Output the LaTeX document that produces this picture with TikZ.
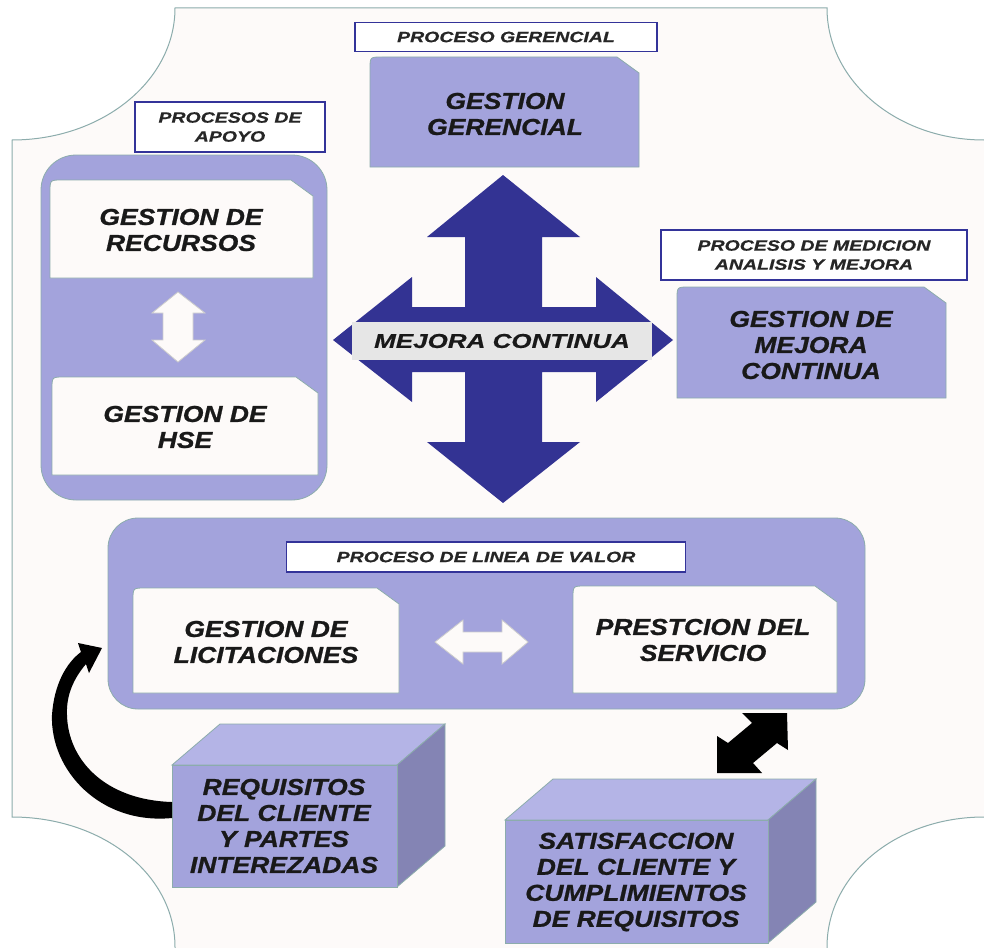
\documentclass[tikz,border=0pt]{standalone}
\usepackage{fontspec}
\setmainfont{Liberation Sans}
\newfontfamily\boxfont[FakeStretch=1.15,FakeBold=1]{Liberation Sans}
\newfontfamily\tagfont[FakeStretch=1.3,FakeBold=0.6]{Liberation Sans}
\definecolor{pagebg}{RGB}{253,250,249}
\definecolor{edge}{RGB}{140,172,172}
\definecolor{lav}{RGB}{163,163,220}
\definecolor{lavtop}{RGB}{180,180,230}
\definecolor{lavside}{RGB}{132,132,180}
\definecolor{navy}{RGB}{51,51,147}
\definecolor{tagline}{RGB}{51,51,153}
\definecolor{band}{RGB}{230,230,230}
\newcommand{\snipbox}[5]{\filldraw[#5] (#1,#4) -- (#1,#2+12) .. controls (#1,#2) .. (#1+12,#2) -- (#3-22,#2) -- (#3,#2+16) -- (#3,#4) -- cycle;}
\newcommand{\boxcube}[4]{
 \filldraw[cubetop] (#1,#2) -- (#1+48,#2-41) -- (#3+48,#2-41) -- (#3,#2) -- cycle;
 \filldraw[cubeside] (#3,#2) -- (#3+48,#2-41) -- (#3+48,#4-41) -- (#3,#4) -- cycle;
 \filldraw[cubefront] (#1,#2) rectangle (#3,#4);}
\begin{document}
\begin{tikzpicture}[x=1pt,y=-1pt,
 edgeline/.style={draw=edge, line width=0.8pt},
 lavbox/.style={edgeline, fill=lav},
 whitebox/.style={edgeline, fill=pagebg},
 cubetop/.style={edgeline, fill=lavtop},
 cubeside/.style={edgeline, fill=lavside},
 cubefront/.style={edgeline, fill=lav},
 btext/.style={font=\boxfont\bfseries\itshape\fontsize{23}{26}\selectfont, align=center, text=black!90},
 tag/.style={draw=tagline, line width=1.3pt, fill=white, inner sep=0pt, align=center, font=\tagfont\bfseries\itshape\fontsize{15}{19}\selectfont, text=black!85},
 hollow/.style={fill=pagebg, draw=black!20, line width=0.8pt}]
\useasboundingbox (0,0) rectangle (984,947);
\fill[white] (0,0) rectangle (984,947);
\filldraw[pagebg, draw=edge, line width=1pt] (175,8) -- (827,8) .. controls (827,81) and (897,140) .. (984,140) -- (995,140) -- (995,817) -- (984,817) .. controls (897,817) and (827,874) .. (827,947) -- (827,955) -- (175,955) -- (175,947) .. controls (175,874) and (102,817) .. (12,817) -- (12,140) .. controls (102,140) and (175,81) .. cycle;

\draw[lavbox, rounded corners=35pt] (41,155) rectangle (327,500);
\draw[lavbox, rounded corners=30pt] (108,518) rectangle (865,709);

\snipbox{370}{57}{639}{167}{lavbox}
\snipbox{50}{180}{313}{278}{whitebox}
\snipbox{52}{377}{318}{475}{whitebox}
\snipbox{677}{287}{946}{398}{lavbox}
\snipbox{133}{588}{399}{693}{whitebox}
\snipbox{573}{586}{837}{693}{whitebox}

\node[btext] (gg) at (505,114) {GESTION\\GERENCIAL};
\node[btext] (rec) at (181,230) {GESTION DE\\RECURSOS};
\node[btext] (hse) at (185,427) {GESTION DE\\HSE};
\node[btext] (gmc) at (811,345) {GESTION DE\\MEJORA\\CONTINUA};
\node[btext] (lic) at (266,642) {GESTION DE\\LICITACIONES};
\node[btext] (ps) at (703,640) {PRESTCION DEL\\SERVICIO};

\node[tag, minimum width=302pt, minimum height=29pt] (tgg) at (506,37) {PROCESO GERENCIAL};
\node[tag, minimum width=190pt, minimum height=50pt] (tap) at (230,127) {PROCESOS DE\\APOYO};
\node[tag, minimum width=306pt, minimum height=50pt] (tmed) at (814,255) {PROCESO DE MEDICION\\ANALISIS Y MEJORA};
\node[tag, minimum width=399pt, minimum height=30pt] (tval) at (486,557) {PROCESO DE LINEA DE VALOR};

\fill[navy] (503,175) -- (580,237) -- (542,237) -- (542,307) -- (596,307) -- (596,277) -- (673,340) -- (596,402) -- (596,372) -- (542,372) -- (542,442) -- (580,442) -- (503,503) -- (427,442) -- (465,442) -- (465,372) -- (412,372) -- (412,402) -- (333,340) -- (412,277) -- (412,307) -- (465,307) -- (465,237) -- (427,237) -- cycle;
\node[fill=band, minimum width=300pt, minimum height=38pt, inner sep=0pt, font=\tagfont\bfseries\itshape\fontsize{20}{24}\selectfont, text=black!90] (mc) at (502,341) {MEJORA CONTINUA};

\filldraw[hollow] (178,292) -- (205,313) -- (193,313) -- (193,340) -- (205,340) -- (178,362) -- (152,340) -- (163,340) -- (163,313) -- (152,313) -- cycle;
\filldraw[hollow] (435,642) -- (463,620) -- (463,632) -- (502,632) -- (502,620) -- (528,642) -- (502,664) -- (502,652) -- (463,652) -- (463,664) -- cycle;

\boxcube{172}{765}{397}{887}
\boxcube{505}{820}{768}{943}
\node[btext] (req) at (284,826) {REQUISITOS\\DEL CLIENTE\\Y PARTES\\INTEREZADAS};
\node[btext] (sat) at (636,882) {SATISFACCION\\DEL CLIENTE Y\\CUMPLIMIENTOS\\DE REQUISITOS};

\fill[black] (787,713) -- (742,713) -- (752,723) -- (728,743) -- (717,736) -- (717,773) -- (762,773) -- (753,763) -- (777,743) -- (788,750) -- cycle;
\fill[black] (172,818) .. controls (100,825) and (50,770) .. (52,715) .. controls (54,685) and (66,663) .. (81,652) -- (78,643) -- (102,648) -- (89,673) -- (86,664) .. controls (74,678) and (66,695) .. (67,715) .. controls (68,760) and (105,800) .. (172,802) -- cycle;
\end{tikzpicture}
\end{document}
